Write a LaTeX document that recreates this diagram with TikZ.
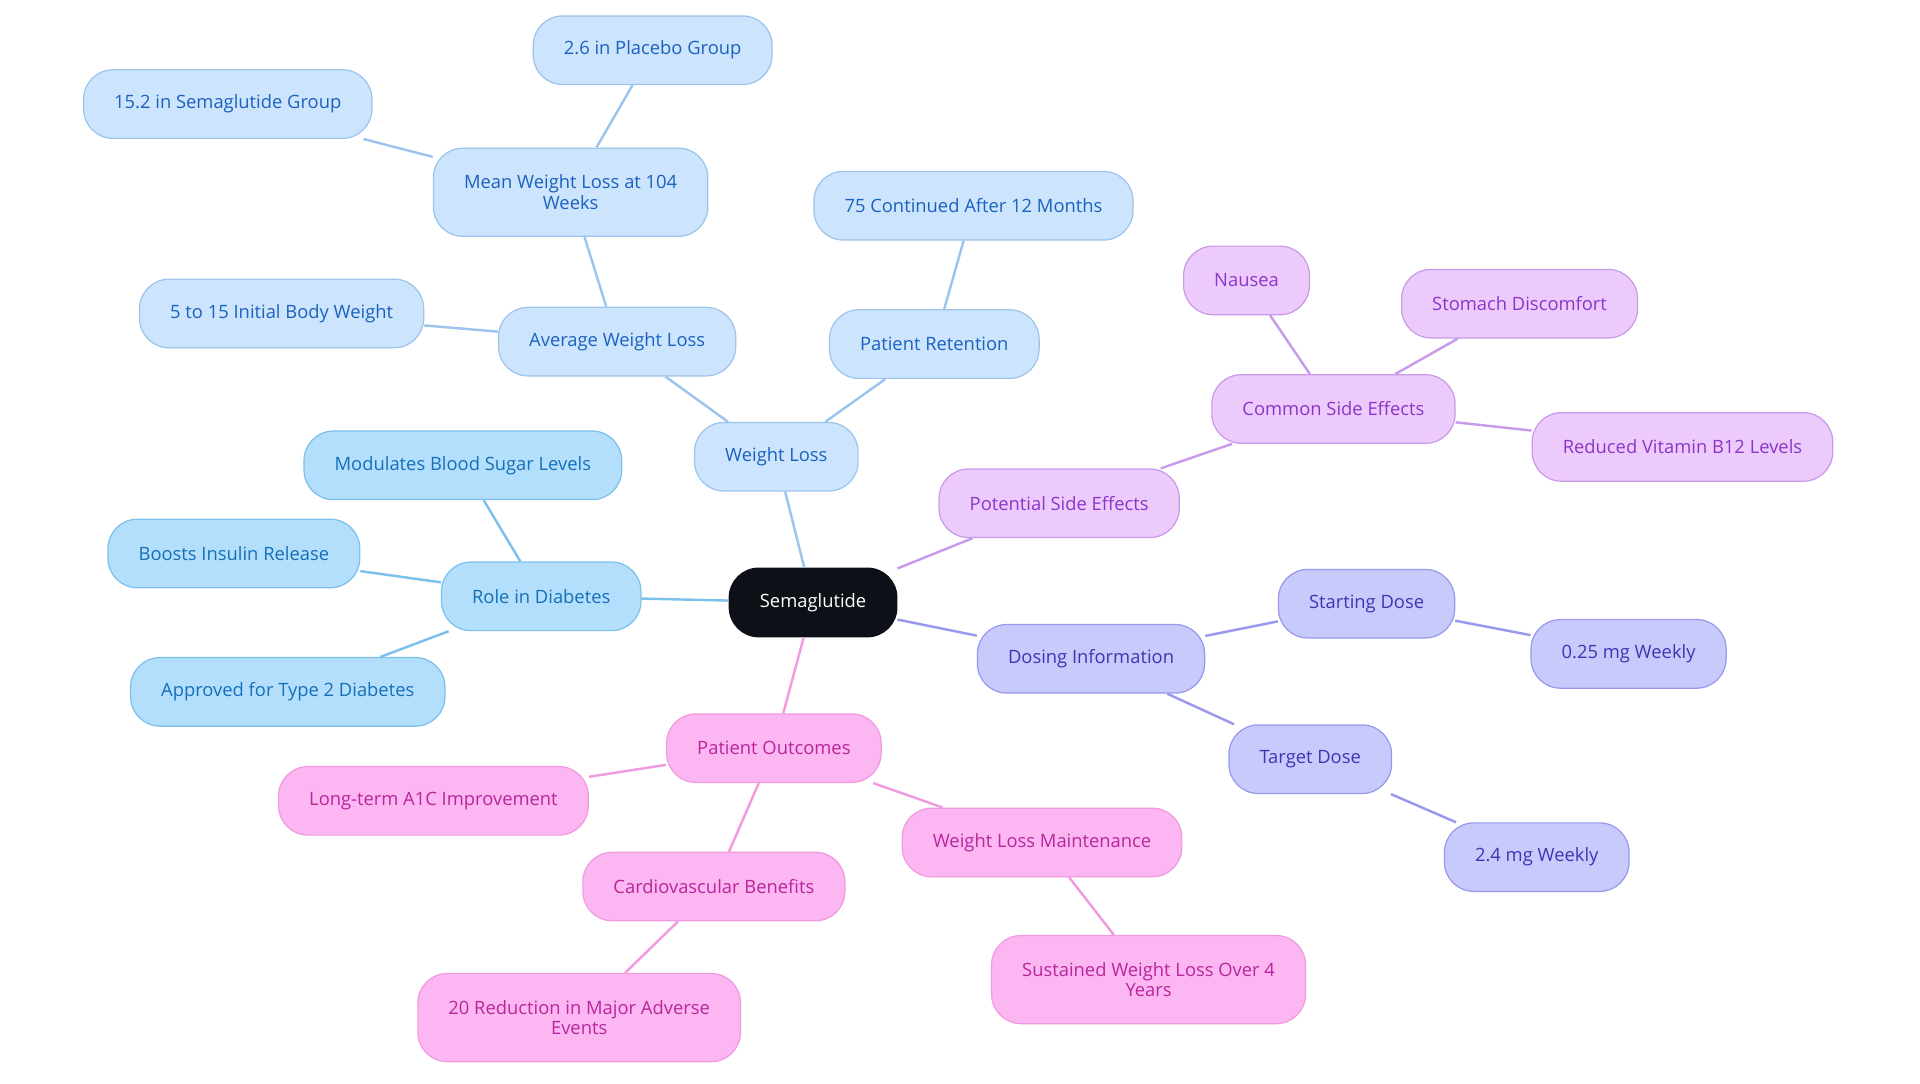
\documentclass[tikz,border=0pt]{standalone}
\usepackage{fontspec}
\setmainfont{Open Sans}
\definecolor{rootfill}{HTML}{0D1117}
\definecolor{wlfill}{HTML}{CCE4FC}
\definecolor{wldraw}{HTML}{9CC4EC}
\definecolor{wltext}{HTML}{1B62C0}
\definecolor{dbfill}{HTML}{B3DEFC}
\definecolor{dbdraw}{HTML}{7CC0EC}
\definecolor{dbtext}{HTML}{1570B8}
\definecolor{sefill}{HTML}{ECCBFC}
\definecolor{sedraw}{HTML}{C89AE8}
\definecolor{setext}{HTML}{8B35C8}
\definecolor{dofill}{HTML}{C8CAFC}
\definecolor{dodraw}{HTML}{9898EC}
\definecolor{dotext}{HTML}{3C36B4}
\definecolor{pofill}{HTML}{FCB6F2}
\definecolor{podraw}{HTML}{F09AE0}
\definecolor{potext}{HTML}{B8269C}
\tikzset{
  pill/.style={rounded corners=12pt,draw,line width=.5pt,inner xsep=12.5pt,
    minimum height=28pt,align=center,font=\fontsize{7.5}{8.5}\selectfont},
  twoline/.style={minimum height=36pt},
  link/.style={draw,line width=1pt}
}
\begin{document}
\begin{tikzpicture}[x=.5pt,y=-.5pt]
        \useasboundingbox (0,0) rectangle (1568,885);

        \node[pill,fill=rootfill,draw=rootfill,text=white] (1) at (664,492) {Semaglutide};

        % weight loss
        \begin{scope}[every node/.style={pill,fill=wlfill,draw=wldraw,text=wltext}]
          \node (2) at (634,373) {Weight Loss};
          \node (3) at (504,279) {Average Weight Loss};
          \node[twoline] (4) at (466,157) {Mean Weight Loss at 104\\Weeks};
          \node (5) at (533,41)  {2.6 in Placebo Group};
          \node (6) at (186,85)  {15.2 in Semaglutide Group};
          \node (7) at (230,256) {5 to 15 Initial Body Weight};
          \node (8) at (763,281) {Patient Retention};
          \node (9) at (795,168) {75 Continued After 12 Months};
        \end{scope}

        % diabetes
        \begin{scope}[every node/.style={pill,fill=dbfill,draw=dbdraw,text=dbtext}]
          \node (10) at (442,487) {Role in Diabetes};
          \node (11) at (378,380) {Modulates Blood Sugar Levels};
          \node (12) at (191,452) {Boosts Insulin Release};
          \node (13) at (235,565) {Approved for Type 2 Diabetes};
        \end{scope}

        % side effects
        \begin{scope}[every node/.style={pill,fill=sefill,draw=sedraw,text=setext}]
          \node (14) at (865,411)  {Potential Side Effects};
          \node (15) at (1089,334) {Common Side Effects};
          \node (16) at (1018,229) {Nausea};
          \node (17) at (1241,248) {Stomach Discomfort};
          \node (18) at (1374,365) {Reduced Vitamin B12 Levels};
        \end{scope}

        % dosing
        \begin{scope}[every node/.style={pill,fill=dofill,draw=dodraw,text=dotext}]
          \node (19) at (891,538)  {Dosing Information};
          \node (20) at (1116,493) {Starting Dose};
          \node (21) at (1330,534) {0.25 mg Weekly};
          \node (22) at (1070,620) {Target Dose};
          \node (23) at (1255,700) {2.4 mg Weekly};
        \end{scope}

        % outcomes
        \begin{scope}[every node/.style={pill,fill=pofill,draw=podraw,text=potext}]
          \node (24) at (632,611) {Patient Outcomes};
          \node (25) at (354,654) {Long-term A1C Improvement};
          \node (26) at (583,724) {Cardiovascular Benefits};
          \node[twoline] (27) at (473,831) {20 Reduction in Major Adverse\\Events};
          \node (28) at (851,688) {Weight Loss Maintenance};
          \node[twoline] (29) at (938,800) {Sustained Weight Loss Over 4\\Years};
        \end{scope}

        \begin{scope}[every edge/.style={link,wldraw}]
          \path (1) edge (2);
          \path (2) edge (3);
          \path (3) edge (4);
          \path (4) edge (5);
          \path (4) edge (6);
          \path (3) edge (7);
          \path (2) edge (8);
          \path (8) edge (9);
        \end{scope}

        \begin{scope}[every edge/.style={link,dbdraw}]
          \path (1)  edge (10);
          \path (10) edge (11);
          \path (10) edge (12);
          \path (10) edge (13);
        \end{scope}

        \begin{scope}[every edge/.style={link,sedraw}]
          \path (1)  edge (14);
          \path (14) edge (15);
          \path (15) edge (16);
          \path (15) edge (17);
          \path (15) edge (18);
        \end{scope}

        \begin{scope}[every edge/.style={link,dodraw}]
          \path (1)  edge (19);
          \path (19) edge (20);
          \path (20) edge (21);
          \path (19) edge (22);
          \path (22) edge (23);
        \end{scope}

        \begin{scope}[every edge/.style={link,podraw}]
          \path (1)  edge (24);
          \path (24) edge (25);
          \path (24) edge (26);
          \path (26) edge (27);
          \path (24) edge (28);
          \path (28) edge (29);
        \end{scope}

      \end{tikzpicture}
\end{document}
